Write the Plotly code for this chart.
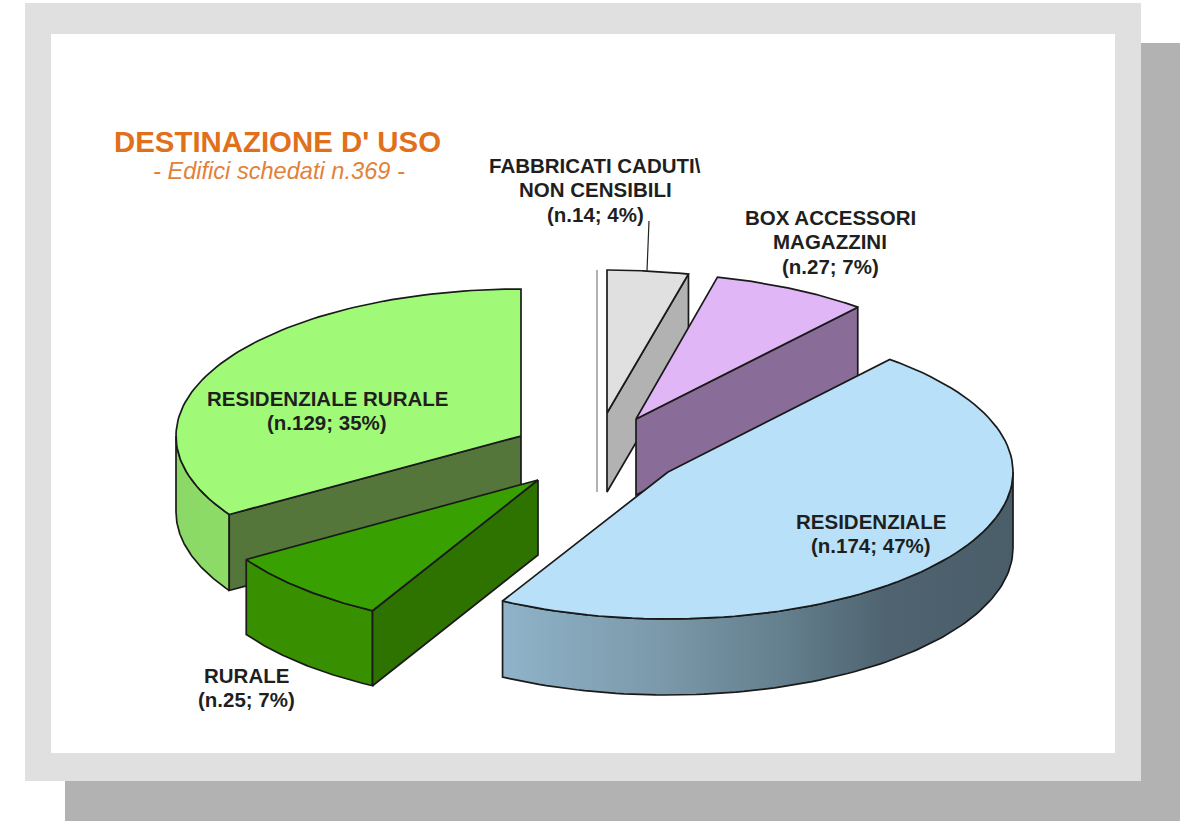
import numpy as np
import plotly.graph_objects as go

# ---- data ----
categories = ["RESIDENZIALE", "RURALE", "RESIDENZIALE RURALE", "FABBRICATI CADUTI\\", "BOX ACCESSORI"]
label_second_lines = ["", "", "", "NON CENSIBILI", "MAGAZZINI"]
counts = [174, 25, 129, 14, 27]
total = sum(counts)
title_text = "DESTINAZIONE D' USO"
subtitle_text = f"- Edifici schedati n.{total} -"

# ---- drawing parameters (projection of the 3D pie) ----
START_DEG = 50.0
RX = 345.0
ry = [147, 149, 147, 143, 146]
depth = [76, 75, 76, 79, 76]
# small perspective shift of each slice's far boundary, in degrees
boundary_nudge = [1.1, -3.6, 0.0, 0.0, 0.0]
apex_x = [668, 538, 521, 607, 636]
apex_y = [472, 480, 436, 413, 419]
top_col = ["#B8E1F9", "#38A000", "#A0FA78", "#E0E0E0", "#E0B6F6"]
inner_col = [None, "#2E7300", "#54763B", "#B2B2B2", "#8A6C98"]
inner_side = [None, "start", "start", "end", "end"]
outer_scale = [
    [[0, "#8FB3C9"], [0.3, "#7C9AAB"], [0.55, "#647F8E"], [0.75, "#4F6470"], [1, "#4A5E6A"]],
    [[0, "#389000"], [1, "#389000"]],
    [[0, "#8BD866"], [1, "#8EDC68"]],
    None,
    None,
]
label_x = [870.5, 246, 327, 595, 830]
label_y = [521, 675, 398, 165, 217]
LINE_STEP = 24.5
EDGE = "#1A1A1A"

# slice angles come from the values, clockwise from START_DEG
sweeps = [c / total * 360 for c in counts]
ends = START_DEG - np.cumsum(sweeps) + np.array(boundary_nudge)
starts = np.r_[START_DEG, ends[:-1]]

fig = go.Figure()


def arc(i, a0, a1, dy=0.0, n=90):
    t = np.radians(np.linspace(a0, a1, n))
    return apex_x[i] + RX * np.cos(t), apex_y[i] - ry[i] * np.sin(t) + dy


def poly(x, y, color=None, scale=None, width=1.7):
    trace = dict(
        x=np.r_[x, x[0]], y=np.r_[y, y[0]], mode="lines", fill="toself",
        line=dict(color=EDGE, width=width), hoverinfo="skip", showlegend=False,
    )
    if scale is not None:
        trace["fillgradient"] = dict(type="horizontal", colorscale=scale)
    else:
        trace["fillcolor"] = color
    fig.add_trace(go.Scatter(**trace))


def draw_slice(i):
    a0, a1 = starts[i], ends[i]
    # outer wall: the part of the rim that faces the viewer (lower half)
    lo, hi = max(a1, -180), min(a0, 0)
    if outer_scale[i] is not None and lo < hi:
        xa, ya = arc(i, hi, lo)
        xb, yb = arc(i, lo, hi, depth[i])
        poly(np.r_[xa, xb], np.r_[ya, yb], scale=outer_scale[i])
    # inner wall along the radius that faces the viewer
    if inner_col[i] is not None:
        edge = a0 if inner_side[i] == "start" else a1
        ex, ey = arc(i, edge, edge, n=1)
        ax, ay = float(apex_x[i]), float(apex_y[i])
        poly(np.array([ax, ex[0], ex[0], ax]),
             np.array([ay, ey[0], ey[0] + depth[i], ay + depth[i]]), inner_col[i])
    # top face
    xa, ya = arc(i, a0, a1)
    poly(np.r_[apex_x[i], xa], np.r_[apex_y[i], ya], top_col[i])


for idx in [2, 3, 4, 1, 0]:
    draw_slice(idx)

# thin vertical rule beside the small slice and its leader line
fig.add_trace(go.Scatter(x=[597, 597], y=[270, 492], mode="lines",
                         line=dict(color="#999999", width=1.5),
                         hoverinfo="skip", showlegend=False))
fig.add_trace(go.Scatter(x=[649, 647], y=[221, 271], mode="lines",
                         line=dict(color="#222222", width=1.2),
                         hoverinfo="skip", showlegend=False))

# background panels
shapes = [
    dict(type="rect", x0=65, x1=1180, y0=43, y1=821, fillcolor="#B2B2B2", line_width=0, layer="below"),
    dict(type="rect", x0=25, x1=1141, y0=3, y1=781, fillcolor="#E0E0E0", line_width=0, layer="below"),
    dict(type="rect", x0=51, x1=1115, y0=34, y1=753, fillcolor="#FFFFFF", line_width=0, layer="below"),
]

FONT = "Liberation Sans"
annotations = []
for i in range(len(counts)):
    pct = round(counts[i] / total * 100)
    lines = [categories[i]]
    if label_second_lines[i]:
        lines.append(label_second_lines[i])
    lines.append(f"(n.{counts[i]}; {pct}%)")
    for k, s in enumerate(lines):
        annotations.append(dict(
            x=label_x[i], y=label_y[i] + k * LINE_STEP, text=f"<b>{s}</b>",
            showarrow=False, xanchor="center", yanchor="middle", align="center",
            font=dict(family=FONT, size=20.5, color="#1F1F1F"),
        ))
annotations.append(dict(x=277.5, y=141, text=f"<b>{title_text}</b>", showarrow=False,
                        font=dict(family=FONT, size=29.4, color="#E0701A")))
annotations.append(dict(x=278.5, y=171, text=f"<i>{subtitle_text}</i>", showarrow=False,
                        font=dict(family=FONT, size=23.6, color="#E2813A")))

fig.update_layout(
    width=1199, height=830, margin=dict(l=0, r=0, t=0, b=0),
    paper_bgcolor="#FFFFFF", plot_bgcolor="#FFFFFF",
    xaxis=dict(range=[0, 1199], visible=False, fixedrange=True),
    yaxis=dict(range=[830, 0], visible=False, fixedrange=True),
    shapes=shapes, annotations=annotations, showlegend=False,
)
fig.write_html("out.html", config=dict(displayModeBar=False),
               post_script="document.body.style.margin='0';document.documentElement.style.overflow='hidden';")
